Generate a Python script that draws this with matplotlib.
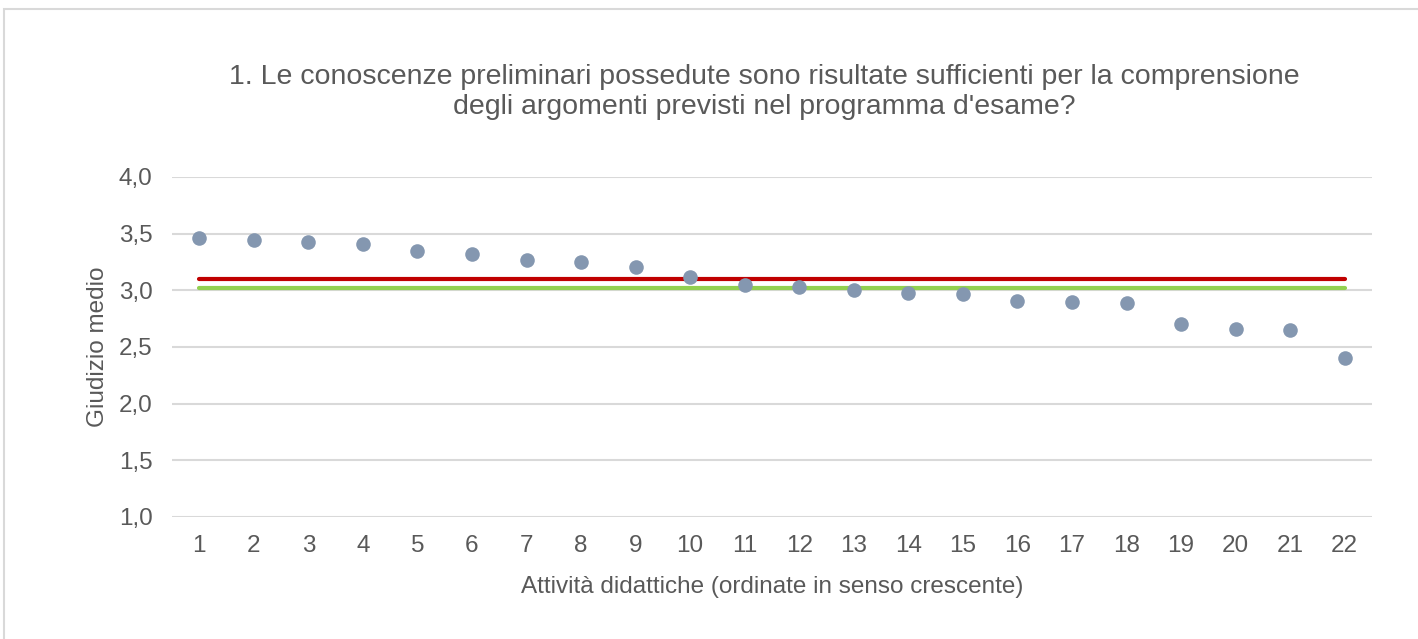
import matplotlib.pyplot as plt
from matplotlib.patches import Rectangle
from matplotlib.ticker import FuncFormatter

# activities sorted, mean judgement per activity
attivita = list(range(1, 23))
giudizio = [3.46, 3.44, 3.43, 3.41, 3.35, 3.32, 3.27, 3.25, 3.21, 3.12, 3.05,
            3.03, 3.00, 2.98, 2.97, 2.91, 2.90, 2.89, 2.70, 2.66, 2.65, 2.40]
media_rossa = 3.10
media_verde = 3.02

titolo = ("1. Le conoscenze preliminari possedute sono risultate sufficienti per la comprensione\n"
          "degli argomenti previsti nel programma d'esame?")

plt.rcParams['font.family'] = ['Liberation Sans', 'DejaVu Sans']
testo = '#595959'

fig = plt.figure(figsize=(14.18, 6.39), dpi=100)
ax = fig.add_axes([172/1418, 1-517/639, 1200/1418, 340/639])

# chart border
fig.patches.append(Rectangle((4/1418, -0.1), 1.1, 1-9/639+0.1, transform=fig.transFigure,
                             fill=False, edgecolor='#D9D9D9', linewidth=1.5))

ax.plot([attivita[0], attivita[-1]], [media_rossa]*2, color='#C00000', lw=3,
        solid_capstyle='round', zorder=3)
ax.plot([attivita[0], attivita[-1]], [media_verde]*2, color='#92D050', lw=3,
        solid_capstyle='round', zorder=3)
ax.scatter(attivita, giudizio, s=110, color='#8497B0', zorder=4, linewidths=0)

ax.set_xlim(0.5, 22.5)
ax.set_ylim(1.0, 4.0)
ax.set_xticks(attivita)
ax.set_yticks([1.0, 1.5, 2.0, 2.5, 3.0, 3.5, 4.0])
ax.yaxis.set_major_formatter(FuncFormatter(lambda v, p: f'{v:.1f}'.replace('.', ',')))
ax.grid(axis='y', color='#D9D9D9', lw=1.5)
ax.set_axisbelow(True)
for s in ax.spines.values():
    s.set_visible(False)
ax.tick_params(length=0, labelsize=17.5, colors=testo)
ax.tick_params(axis='y', pad=14)
ax.tick_params(axis='x', pad=13)

ax.set_ylabel('Giudizio medio', fontsize=17.5, color=testo, labelpad=7)
ax.set_xlabel('Attività didattiche (ordinate in senso crescente)', fontsize=17.5,
              color=testo, labelpad=14)
fig.text(764/1418, 1-92/639, titolo, ha='center', va='center', fontsize=20.5,
         color=testo, linespacing=1.15)

fig.savefig('out.png', dpi=100)
